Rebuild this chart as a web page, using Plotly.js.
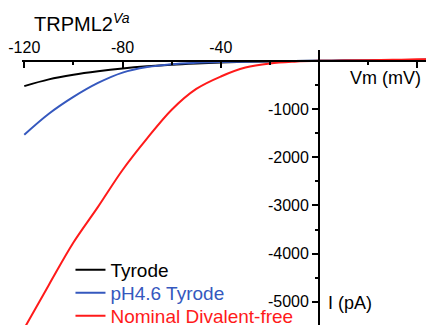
<!DOCTYPE html>
<html>
<head>
<meta charset="utf-8">
<script src="https://cdn.plot.ly/plotly-3.0.1.min.js"></script>
<style>html,body{margin:0;padding:0;background:#fff;}#chart{width:426px;height:325px;}</style>
</head>
<body>
<div id="chart"></div>
<script>
// Membrane voltage (mV)
const voltage = [-120, -110, -100, -90, -80, -70, -60, -50, -40, -30, -20, -10, 0, 10, 20, 30, 40, 45];
// Current (pA) for each condition
const tyrode = [-525, -385, -290, -218, -160, -115, -80, -55, -35, -22, -12, -5, 0, 4, 8, 12, 18, 20];
const ph46Tyrode = [-1535, -1100, -750, -460, -245, -130, -70, -42, -27, -18, -10, -4, 0, 4, 8, 12, 17, 20];
const divalentFree = [-5550, -4650, -3770, -3030, -2265, -1610, -1015, -583, -325, -140, -55, -18, 0, 5, 12, 20, 30, 35];

const seriesNames = ['Tyrode', 'pH4.6 Tyrode', 'Nominal Divalent-free'];
const seriesColors = ['#000000', '#3558be', '#ff1a1a'];
const seriesValues = [tyrode, ph46Tyrode, divalentFree];
const legendIds = ['legend', 'legend2', 'legend3'];

const xTickVals = [-120, -80, -40, 40];
const xMinorVals = [-100, -60, -20, 20];
const yTickVals = [-5000, -4000, -3000, -2000, -1000];
const yMinorVals = [-4500, -3500, -2500, -1500, -500];

const font = 'Arial, "Liberation Sans", sans-serif';

const traces = seriesValues.map((vals, i) => ({
  x: voltage,
  y: vals,
  type: 'scatter',
  mode: 'lines',
  line: {color: seriesColors[i], width: 2, shape: 'spline'},
  name: '<span style="color:' + seriesColors[i] + '">' + seriesNames[i] + '</span>',
  legend: legendIds[i]
}));

const xRange = [-120.93, 43.5];
const yRange = [-5481, 224];

// legend rows (pixel centres in the figure) converted to plot-area fractions
const plotTop = 50, plotH = 275;
const legendRowY = [270, 293, 316];
function legendCfg(py) {
  return {
    x: 0.12, xanchor: 'left', y: (plotTop + plotH - py) / plotH, yanchor: 'middle',
    bgcolor: 'rgba(0,0,0,0)', borderwidth: 0,
    font: {family: font, size: 19}
  };
}

const layout = {
  width: 426, height: 325,
  margin: {l: 22, r: 0, t: plotTop, b: 0, autoexpand: false},
  paper_bgcolor: '#fff', plot_bgcolor: '#fff',
  font: {family: font, color: '#000'},
  title: {
    text: 'TRPML2<sup><i>Va</i></sup>',
    font: {family: font, size: 20, color: '#000'},
    x: 34/426, xanchor: 'left', xref: 'container',
    y: 1 - 24/325, yanchor: 'middle', yref: 'container'
  },
  showlegend: true,
  legend: legendCfg(legendRowY[0]),
  legend2: legendCfg(legendRowY[1]),
  legend3: legendCfg(legendRowY[2]),
  xaxis: {
    range: xRange, anchor: 'free', position: -yRange[0] / (yRange[1] - yRange[0]),
    side: 'top', showgrid: false, zeroline: false,
    showline: true, linewidth: 2, linecolor: '#000',
    ticks: 'inside', ticklen: 6, tickwidth: 2, tickcolor: '#000',
    tickvals: xTickVals, ticktext: xTickVals.map(String),
    tickfont: {family: font, size: 16, color: '#000'},
    minor: {tickvals: xMinorVals, ticks: 'inside', ticklen: 3, tickwidth: 2, tickcolor: '#000', showgrid: false}
  },
  yaxis: {
    range: yRange, anchor: 'free', position: -xRange[0] / (xRange[1] - xRange[0]),
    side: 'left', showgrid: false, zeroline: false,
    showline: true, linewidth: 2, linecolor: '#000',
    ticks: 'outside', ticklen: 6, tickwidth: 2, tickcolor: '#000',
    tickvals: yTickVals, ticktext: yTickVals.map(String),
    tickfont: {family: font, size: 16, color: '#000'},
    minor: {tickvals: yMinorVals, ticks: 'outside', ticklen: 3, tickwidth: 2, tickcolor: '#000', showgrid: false}
  },
  annotations: [
    {text: 'Vm (mV)', x: 27, y: -357, xref: 'x', yref: 'y', showarrow: false,
     xanchor: 'center', yanchor: 'middle', font: {family: font, size: 18, color: '#000'}},
    {text: 'I (pA)', x: 2.85, y: -5025, xref: 'x', yref: 'y', showarrow: false,
     xanchor: 'left', yanchor: 'middle', font: {family: font, size: 18, color: '#000'}}
  ]
};

Plotly.newPlot('chart', traces, layout, {staticPlot: true, displayModeBar: false});
</script>
</body>
</html>
